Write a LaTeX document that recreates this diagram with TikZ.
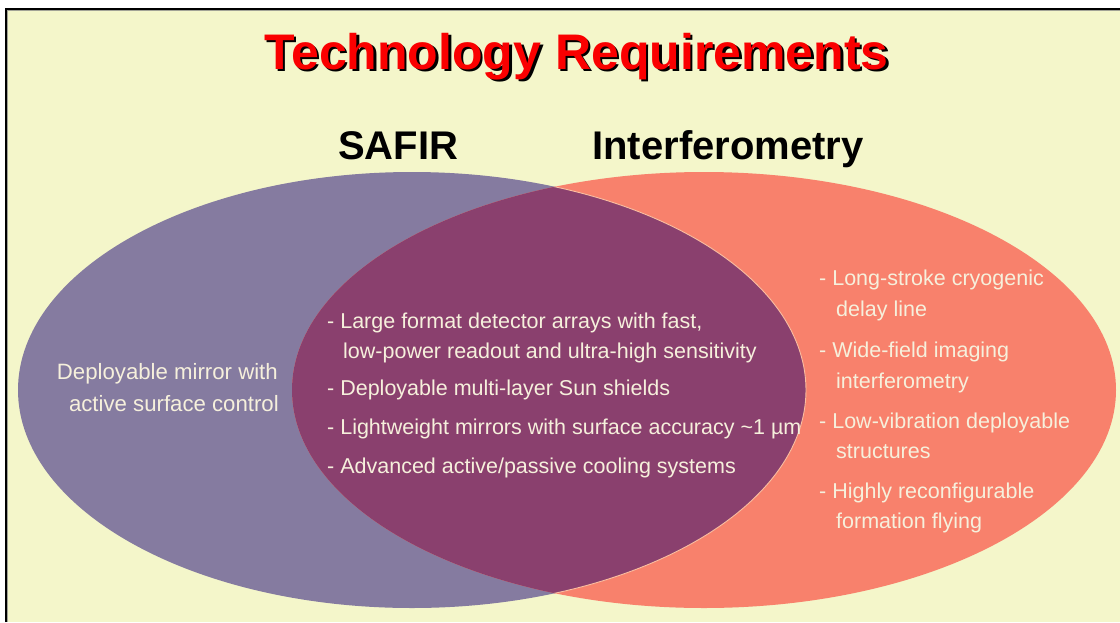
\documentclass[tikz,border=0pt]{standalone}
\usepackage{fontspec}
\setmainfont{Liberation Sans}
\definecolor{bgyellow}{RGB}{244,246,202}
\definecolor{safir}{RGB}{133,123,160}
\definecolor{interf}{RGB}{248,129,108}
\definecolor{overlap}{RGB}{138,64,110}
\definecolor{cream}{RGB}{246,240,220}
\definecolor{titlered}{RGB}{250,0,0}
\definecolor{edgepeach}{RGB}{250,190,160}
\tikzset{
  txt/.style={anchor=base west,inner sep=0pt,text=cream,font=\fontsize{21.5}{26}\selectfont},
  head/.style={anchor=base,inner sep=0pt,font=\fontsize{40}{44}\selectfont\bfseries},
  titletxt/.style={anchor=base,inner sep=0pt,font=\fontsize{50}{55}\selectfont\bfseries}
}
\begin{document}
\begin{tikzpicture}[x=1pt,y=-1pt]
\useasboundingbox (0,0) rectangle (1120,622);
% background and frame
\fill[white] (0,0) rectangle (1120,622);
\fill[bgyellow] (6,9) rectangle (1120,622);
\draw[gray!70!bgyellow,line width=1pt] (7.8,622) -- (7.8,10.6) -- (1120,10.6);
\draw[black,line width=1.6pt] (5.8,622) -- (5.8,8.8) -- (1120,8.8);
% ellipses
\fill[safir] (412,390) ellipse [x radius=394pt, y radius=218pt];
\fill[interf] (704,390) ellipse [x radius=412pt, y radius=218pt];
\begin{scope}
  \clip (412,390) ellipse [x radius=394pt, y radius=218pt];
  \fill[overlap] (704,390) ellipse [x radius=412pt, y radius=218pt];
\end{scope}
\begin{scope}
  \clip (704,390) ellipse [x radius=412pt, y radius=218pt];
  \draw[edgepeach,line width=0.9pt] (412,390) ellipse [x radius=394pt, y radius=218pt];
\end{scope}
% title
\node[titletxt,text=black] (titleshadow) at (579,71.5) {Technology Requirements};
\node[titletxt,text=titlered] (title) at (576.5,69) {Technology Requirements};
% headings
\node[head] (safirhead) at (398,159) {SAFIR};
\node[head] (interfhead) at (728,159) {Interferometry};
% left text
\node[txt,anchor=base east,font=\fontsize{22.2}{26}\selectfont] (l1) at (278,379) {Deployable mirror with};
\node[txt,anchor=base east,font=\fontsize{22.2}{26}\selectfont] (l2) at (279,411) {active surface control};
% center text
\node[txt] (c1) at (327,328) {- Large format detector arrays with fast,};
\node[txt] (c1b) at (343,358) {low-power readout and ultra-high sensitivity};
\node[txt] (c2) at (327,395) {- Deployable multi-layer Sun shields};
\node[txt] (c3) at (327,434) {- Lightweight mirrors with surface accuracy \textasciitilde 1 µm};
\node[txt] (c4) at (327,473) {- Advanced active/passive cooling systems};
% right text
\node[txt] (r1) at (819,285) {- Long-stroke cryogenic};
\node[txt] (r1b) at (836,316) {delay line};
\node[txt] (r2) at (819,357) {- Wide-field imaging};
\node[txt] (r2b) at (836,388) {interferometry};
\node[txt] (r3) at (819,428) {- Low-vibration deployable};
\node[txt] (r3b) at (836,458) {structures};
\node[txt] (r4) at (819,498) {- Highly reconfigurable};
\node[txt] (r4b) at (836,528) {formation flying};
\end{tikzpicture}
\end{document}
